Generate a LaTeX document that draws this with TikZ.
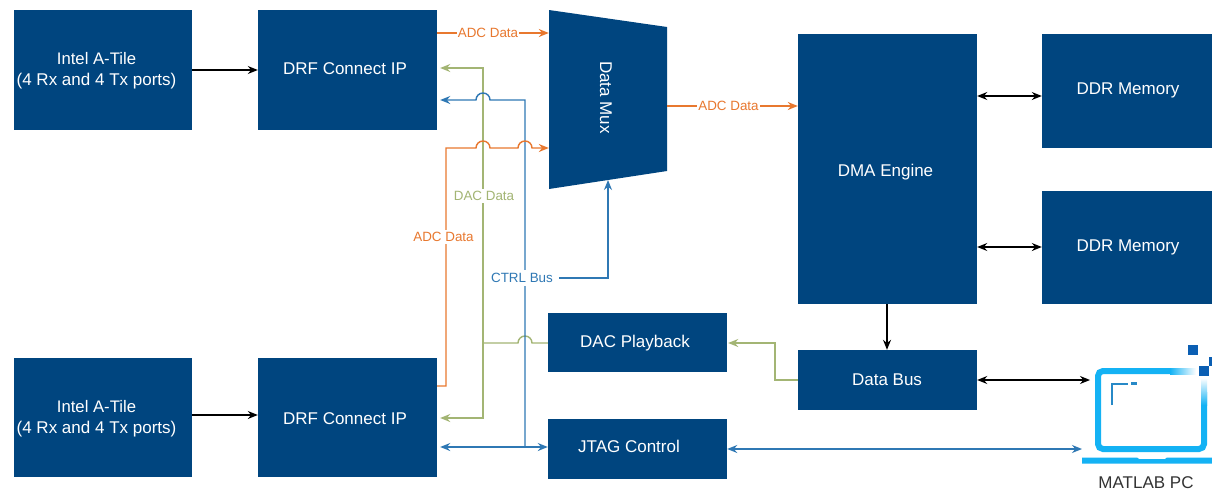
\documentclass[tikz,border=0pt]{standalone}
\usepackage{fontspec}
\setmainfont{Liberation Sans}
\usetikzlibrary{arrows.meta,calc}
\definecolor{boxblue}{HTML}{00457F}
\definecolor{adcor}{HTML}{E8782F}
\definecolor{dacgr}{HTML}{A3B574}
\definecolor{ctrlbl}{HTML}{2F78B4}
\definecolor{lapcy}{HTML}{14B2F4}
\definecolor{sqbl}{HTML}{0B5FB3}
\tikzset{
  bx/.style={fill=boxblue,text=white,draw=none,inner sep=0pt,align=center,font=\fontsize{17}{21}\selectfont},
  conn/.style={line width=1.2pt,-{Stealth[length=10pt,width=8pt]}},
  biconn/.style={line width=1.2pt,{Stealth[length=10pt,width=8pt]}-{Stealth[length=10pt,width=8pt]}},
  blk/.style={black},
  orl/.style={draw=adcor,fill=none,line width=1.4pt,color=adcor},
  grl/.style={draw=dacgr,fill=none,line width=1.4pt,color=dacgr},
  bll/.style={draw=ctrlbl,fill=none,line width=1.4pt,color=ctrlbl},
  lbl/.style={font=\fontsize{13.4}{16}\selectfont,inner sep=0pt}
}
\newcommand{\boxat}[6]{\node[bx,minimum width=#4pt-#2pt,minimum height=#5pt-#3pt] (#1) at ({(#2+#4)/2},{(#3+#5)/2}) {#6};}
% text shifted by dx,dy from the centre of its box
\newcommand{\tx}[3]{\hspace*{\dimexpr2\dimexpr#1pt\relax\relax}\raisebox{\dimexpr-#2pt-6pt\relax}[0pt][0pt]{#3}}
\begin{document}
\begin{tikzpicture}[x=1pt,y=-1pt]
\useasboundingbox (0,0) rectangle (1212,490);
\fill[white] (0,0) rectangle (1212,490);
\begin{scope}
\clip (0,0) rectangle (1212,490);
\boxat{tileA}{14}{10}{192}{130}{\fontsize{16.7}{21}\selectfont\hspace*{-13pt}\rule{0pt}{14.5pt}Intel A-Tile\\\hspace*{-13pt}(4 Rx and 4 Tx ports)}
\boxat{drfA}{258}{10}{437}{130}{\tx{-2.5}{-2}{DRF Connect IP}}
\boxat{tileB}{14}{358}{192}{477}{\fontsize{16.7}{21}\selectfont\hspace*{-13pt}\rule{0pt}{15.5pt}Intel A-Tile\\\hspace*{-13pt}(4 Rx and 4 Tx ports)}
\boxat{drfB}{258}{358}{437}{477}{\tx{-2.5}{0.5}{DRF Connect IP}}
\fill[boxblue] (549,10) -- (667,27) -- (667,171) -- (549,189) -- cycle;
\node[font=\fontsize{17}{21}\selectfont,text=white,inner sep=0pt,rotate=-90,minimum width=179pt,minimum height=118pt] (mux) at (608,99) {\tx{-1.5}{2}{Data Mux}};
\coordinate (muxin) at (608,180);
\boxat{dma}{798}{34}{977}{304}{\tx{-2}{1}{DMA Engine}}
\boxat{ddrA}{1042}{34}{1225}{148}{\tx{-5.5}{-3}{DDR Memory}}
\boxat{ddrB}{1042}{191}{1225}{304}{\tx{-5.5}{-2.5}{DDR Memory}}
\boxat{dac}{548}{313}{727}{372}{\tx{-2.5}{-1.5}{DAC Playback}}
\boxat{bus}{798}{350}{977}{410}{\tx{-0.5}{-1}{Data Bus}}
\boxat{jtag}{548}{419}{727}{479}{\tx{-8.5}{-3}{JTAG Control}}

% laptop
\coordinate (pcA) at (1090,380);
\coordinate (pcB) at (1082,449);
\draw[lapcy,line width=6pt,rounded corners=5pt] (1182,371) -- (1098,371) -- (1098,449) -- (1204,449) -- (1204,392);
\shade[left color=lapcy,right color=white] (1170,368) rectangle (1196,374);
\shade[top color=white,bottom color=lapcy] (1201,378) rectangle (1207,405);
\fill[lapcy] (1082,457.5) -- (1137,457.5) -- (1139,459) -- (1165,459) -- (1167,457.5) -- (1212,457.5) -- (1212,463.5) -- (1082,463.5) -- cycle;
\draw[color=ctrlbl!70!lapcy,line width=2.5pt] (1112,405) -- (1112,384) -- (1128,384);
\draw[color=ctrlbl!70!lapcy,line width=2.5pt] (1131,383.5) -- (1137,383.5);
\fill[sqbl] (1188,345) rectangle (1198,355);
\fill[sqbl] (1199,366) rectangle (1209,376);
\fill[sqbl] (1209,357) rectangle (1212,366);
\node[font=\fontsize{17}{20}\selectfont,text=black!80,inner sep=0pt] (pclabel) at (1146,482.5) {MATLAB PC};

% black connectors
\draw[conn,blk] (tileA.east |- 0,70) -- (drfA.west |- 0,70);
\draw[conn,blk] (tileB.east |- 0,415) -- (drfB.west |- 0,415);
\draw[biconn,blk] (dma.east |- 0,96) -- (ddrA.west |- 0,96);
\draw[biconn,blk] (dma.east |- 0,247) -- (ddrB.west |- 0,247);
\draw[conn,blk] (dma.south -| 887,0) -- (bus.north -| 887,0);
\draw[biconn,blk] (bus.east |- 0,380) -- (pcA);

% green
\draw[conn,grl,shorten >=3pt] (483,343) -- (483,68) -- (drfA.east |- 0,68);
\draw[conn,grl,shorten >=3pt] (483,343) -- (483,418) -- (drfB.east |- 0,418);
\draw[grl] (dac.west |- 0,343) -- (532,343) arc[start angle=0,end angle=180,radius=7pt] -- (483,343);
\draw[conn,grl,shorten >=1pt] (bus.west |- 0,380) -- (775,380) -- (775,343) -- (dac.east |- 0,343);

% blue
\draw[conn,bll,shorten >=3pt] (525,447) -- (525,100) -- (490,100) arc[start angle=0,end angle=180,radius=7pt] -- (drfA.east |- 0,100);
\draw[biconn,bll,shorten <=3pt] (drfB.east |- 0,447) -- (jtag.west |- 0,447);
\draw[biconn,bll] (jtag.east |- 0,449) -- (pcB);
\draw[conn,bll] (559,278) -- (608,278) -- (muxin);

% orange
\draw[conn,orl] (drfB.east |- 0,386) -- (446,386) -- (446,148) -- (476,148) arc[start angle=180,end angle=0,radius=7pt] -- (518,148) arc[start angle=180,end angle=0,radius=7pt] -- (mux.south |- 0,148);
\draw[conn,orl] (drfA.east |- 0,33) -- (mux.south |- 0,33);
\draw[conn,orl] (mux.north |- 0,106) -- (dma.west |- 0,106);

% labels
\node[lbl,fill=white,text=adcor,inner xsep=1pt,inner ysep=2pt] (l1) at (488,33) {ADC Data\hspace{5pt}};
\node[lbl,fill=white,text=adcor,inner xsep=1pt,inner ysep=2pt] (l2) at (728.5,106) {ADC Data\hspace{5pt}};
\node[lbl,fill=white,text=adcor,inner xsep=1pt,inner ysep=2pt] (l3) at (443.5,237) {ADC Data};
\node[lbl,fill=white,text=dacgr,inner xsep=1pt,inner ysep=2pt] (l4) at (484,196) {DAC Data};
\node[lbl,fill=white,text=ctrlbl,inner xsep=1pt,inner ysep=3pt] (l5) at (522,278) {CTRL Bus};
\end{scope}
\end{tikzpicture}
\end{document}
